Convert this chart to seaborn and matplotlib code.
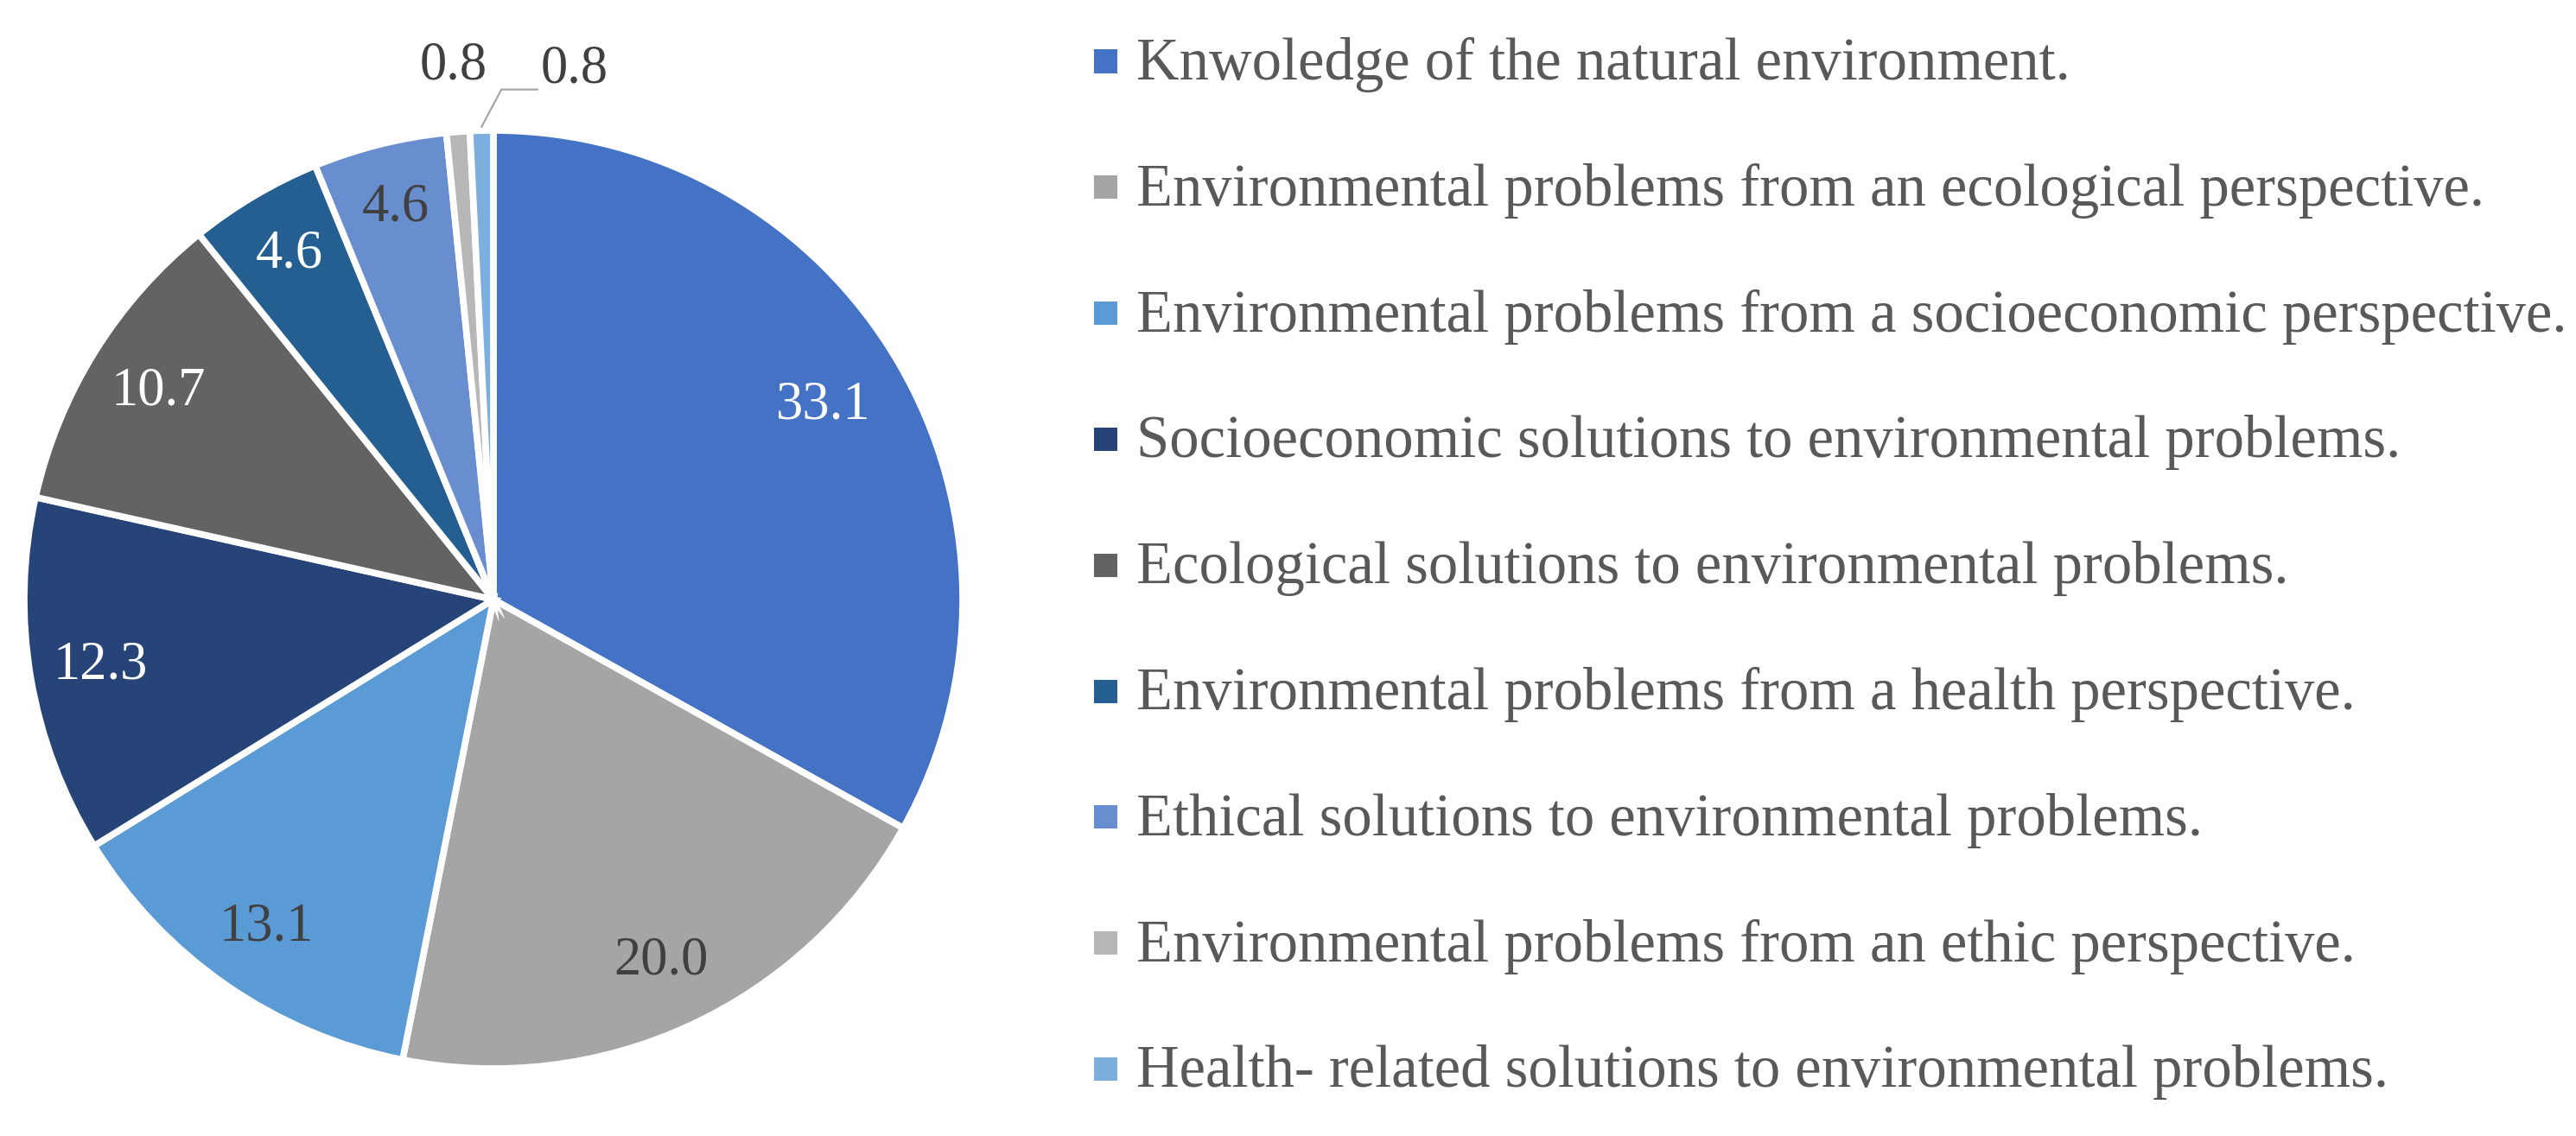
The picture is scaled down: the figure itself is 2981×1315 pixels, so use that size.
import numpy as np
import matplotlib
matplotlib.use("Agg")
import matplotlib.pyplot as plt
import seaborn as sns
from matplotlib.patches import Rectangle

categories = [
    "Knwoledge of the natural environment.",
    "Environmental problems from an ecological perspective.",
    "Environmental problems from a socioeconomic perspective.",
    "Socioeconomic solutions to environmental problems.",
    "Ecological solutions to environmental problems.",
    "Environmental problems from a health perspective.",
    "Ethical solutions to environmental problems.",
    "Environmental problems from an ethic perspective.",
    "Health- related solutions to environmental problems.",
]
values = [33.1, 20.0, 13.1, 12.3, 10.7, 4.6, 4.6, 0.8, 0.8]
value_labels = ["33.1", "20.0", "13.1", "12.3", "10.7", "4.6", "4.6", "0.8", "0.8"]

colors = ["#4472C4", "#A5A5A5", "#5B9BD5", "#264478", "#636363",
          "#255E91", "#698ED0", "#B7B7B7", "#7CAFDD"]
label_colors = ["white", "#404040", "#404040", "white", "white",
                "white", "#404040", "#404040", "#404040"]
label_radius = [0.815, 0.85, 0.85, 0.85, 0.84, 0.855, 0.86, 1.14, None]

sns.set_theme(style="white")
plt.rcParams["font.family"] = ["Liberation Serif", "DejaVu Serif"]

W, H = 2981, 1315
fig = plt.figure(figsize=(W / 100, H / 100), dpi=100)

# ---- pie ----
cx, cy, R = 571, 694, 543
ax = fig.add_axes([(cx - R) / W, (H - cy - R) / H, 2 * R / W, 2 * R / H])
wedges, _ = ax.pie(values, colors=colors, startangle=90, counterclock=False,
                   radius=1.0,
                   wedgeprops=dict(edgecolor="white", linewidth=5.5))
ax.set_xlim(-1, 1)
ax.set_ylim(-1, 1)
ax.set_aspect("equal")
ax.axis("off")

fs = 45
for i, w in enumerate(wedges):
    ang = np.deg2rad((w.theta1 + w.theta2) / 2)
    if label_radius[i] is not None:
        r = label_radius[i]
        ax.text(r * np.cos(ang), r * np.sin(ang), value_labels[i],
                ha="center", va="center", fontsize=fs, color=label_colors[i])
    else:
        p0 = (1.008 * np.cos(ang), 1.008 * np.sin(ang))
        ax.annotate(value_labels[i], xy=p0, xytext=(0.10, 1.13),
                    textcoords="data", ha="left", va="center",
                    fontsize=fs, color=label_colors[i],
                    arrowprops=dict(arrowstyle="-", color="#A6A6A6", lw=1.6,
                                    shrinkA=0, shrinkB=0,
                                    connectionstyle="angle,angleA=0,angleB=62,rad=0",
                                    relpos=(0, 0.1)),
                    annotation_clip=False)

# ---- legend (squares + labels) ----
mk_x0, mk_size = 1266, 27
txt_x = 1315
row0, row_step = 71, 145.8
target_w = 1082  # pixel width of the first legend label

leg_fs = 50
probe = fig.text(0, 0, categories[0], fontsize=leg_fs)
fig.canvas.draw()
w_now = probe.get_window_extent().width
probe.remove()
leg_fs = leg_fs * target_w / w_now

for i, (lab, col) in enumerate(zip(categories, colors)):
    yc = row0 + row_step * i
    fig.patches.append(Rectangle((mk_x0 / W, 1 - (yc + mk_size / 2) / H),
                                 mk_size / W, mk_size / H,
                                 transform=fig.transFigure, facecolor=col,
                                 edgecolor="none"))
    fig.text(txt_x / W, 1 - (yc + 21) / H, lab, ha="left", va="baseline",
             fontsize=leg_fs, color="#595959")

fig.savefig("out.png", dpi=100, facecolor="white")
